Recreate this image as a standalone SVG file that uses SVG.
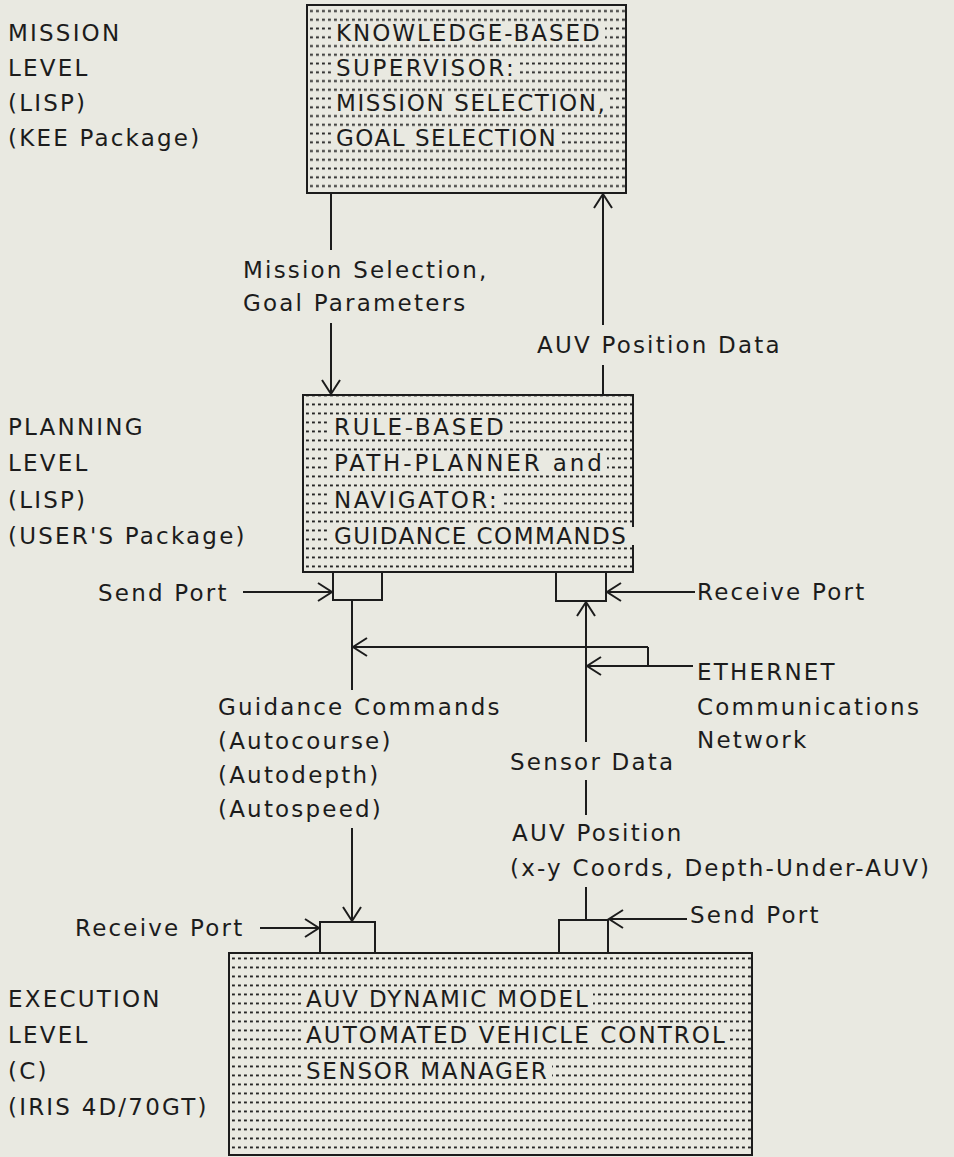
<svg xmlns="http://www.w3.org/2000/svg" width="954" height="1157" viewBox="0 0 954 1157">
  <defs>
    <style>
      text { font-family: "DejaVu Sans", "Liberation Sans", sans-serif; font-size: 23px; fill: #1c1c1c; letter-spacing: 2.2px; }
      .box { stroke: #1c1c1c; stroke-width: 2; }
      .ln { fill: none; stroke: #1c1c1c; stroke-width: 2; }
      .knock { fill: #e9e9e1; }
      .arr { marker-end: url(#head); }
    </style>
    <!-- stipple fills: short dashes in rows, one phase per box -->
    <pattern id="dotsTop" x="309" y="24.2" width="6" height="8.75" patternUnits="userSpaceOnUse">
      <rect x="1" y="3.4" width="2.9" height="1.9" fill="#262626"/>
    </pattern>
    <pattern id="dotsMid" x="305" y="418" width="6" height="9" patternUnits="userSpaceOnUse">
      <rect x="1" y="3.5" width="2.9" height="1.9" fill="#262626"/>
    </pattern>
    <pattern id="dotsLow" x="231" y="990" width="6" height="9" patternUnits="userSpaceOnUse">
      <rect x="1" y="3.5" width="2.9" height="1.9" fill="#262626"/>
    </pattern>
    <marker id="head" viewBox="-16 -11 18 22" markerWidth="18" markerHeight="22" refX="0" refY="0" orient="auto" markerUnits="userSpaceOnUse">
      <path d="M-14,-9 L0,0 L-14,9" fill="none" stroke="#1c1c1c" stroke-width="2"/>
    </marker>
  </defs>

  <rect width="954" height="1157" fill="#e9e9e1"/>

  <!-- level captions -->
  <g id="mission-level">
    <text x="8" y="41.4">MISSION</text>
    <text x="8" y="76.4">LEVEL</text>
    <text x="8" y="111.4">(LISP)</text>
    <text x="8" y="146.4">(KEE Package)</text>
  </g>
  <g id="planning-level">
    <text x="8" y="435.4">PLANNING</text>
    <text x="8" y="471.4">LEVEL</text>
    <text x="8" y="508.4">(LISP)</text>
    <text x="8" y="544.4">(USER'S Package)</text>
  </g>
  <g id="execution-level">
    <text x="8" y="1007.4">EXECUTION</text>
    <text x="8" y="1043.4">LEVEL</text>
    <text x="8" y="1079.4">(C)</text>
    <text x="8" y="1115.4">(IRIS 4D/70GT)</text>
  </g>

  <!-- knowledge-based supervisor -->
  <g id="supervisor">
    <rect class="box" x="307" y="5" width="319" height="188" fill="url(#dotsTop)"/>
    <rect class="knock" x="332" y="24" width="273" height="18"/>
    <rect class="knock" x="332" y="59" width="187" height="18"/>
    <rect class="knock" x="332" y="94" width="278" height="18"/>
    <rect class="knock" x="332" y="129" width="229" height="18"/>
    <text x="336" y="41.4" textLength="266" lengthAdjust="spacing">KNOWLEDGE-BASED</text>
    <text x="336" y="76.4" textLength="180" lengthAdjust="spacing">SUPERVISOR:</text>
    <text x="336" y="111.4" textLength="271" lengthAdjust="spacing">MISSION SELECTION,</text>
    <text x="336" y="146.4" textLength="222" lengthAdjust="spacing">GOAL SELECTION</text>
  </g>

  <!-- rule-based path planner -->
  <g id="planner">
    <rect class="box" x="303" y="395" width="330" height="177" fill="url(#dotsMid)"/>
    <rect class="knock" x="330" y="418" width="179" height="18"/>
    <rect class="knock" x="330" y="454" width="277" height="18"/>
    <rect class="knock" x="330" y="491" width="172" height="18"/>
    <rect class="knock" x="330" y="527" width="305" height="18"/>
    <text x="334" y="435.4" textLength="172" lengthAdjust="spacing">RULE-BASED</text>
    <text x="334" y="471.4" textLength="270" lengthAdjust="spacing">PATH-PLANNER and</text>
    <text x="334" y="508.4" textLength="165" lengthAdjust="spacing">NAVIGATOR:</text>
    <text x="334" y="544.4" textLength="294" lengthAdjust="spacing">GUIDANCE COMMANDS</text>
  </g>

  <!-- vehicle simulation and control -->
  <g id="vehicle">
    <rect class="box" x="229" y="953" width="523" height="202" fill="url(#dotsLow)"/>
    <rect class="knock" x="302" y="990" width="291" height="18"/>
    <rect class="knock" x="302" y="1026" width="428" height="18"/>
    <rect class="knock" x="302" y="1062" width="250" height="18"/>
    <text x="306" y="1007.4" textLength="284" lengthAdjust="spacing">AUV DYNAMIC MODEL</text>
    <text x="306" y="1043.4" textLength="421" lengthAdjust="spacing">AUTOMATED VEHICLE CONTROL</text>
    <text x="306" y="1079.4" textLength="243" lengthAdjust="spacing">SENSOR MANAGER</text>
  </g>

  <!-- communication ports -->
  <g id="planner-send-port">
    <path class="ln" d="M333,573 V600 H382 V573"/>
  </g>
  <g id="planner-receive-port">
    <path class="ln" d="M556,573 V601 H606 V573"/>
  </g>
  <g id="vehicle-receive-port">
    <path class="ln" d="M320,953 V922 H375 V953"/>
  </g>
  <g id="vehicle-send-port">
    <path class="ln" d="M559,953 V920 H608 V953"/>
  </g>

  <!-- connectors -->
  <g id="connectors">
    <path class="ln" d="M331,193 V250"/>
    <path class="ln arr" d="M331,323 V394"/>
    <path class="ln arr" d="M603,325 V194"/>
    <path class="ln" d="M603,365 V395"/>

    <path class="ln arr" d="M243,592 H332"/>
    <path class="ln arr" d="M695,592 H607"/>

    <path class="ln" d="M352,600 V690"/>
    <path class="ln arr" d="M648,647 H353"/>
    <path class="ln" d="M648,647 V666"/>
    <path class="ln arr" d="M693,666 H587"/>

    <path class="ln arr" d="M586,742 V602"/>
    <path class="ln" d="M586,780 V815"/>
    <path class="ln" d="M586,887 V920"/>

    <path class="ln arr" d="M352,828 V921"/>
    <path class="ln arr" d="M260,928 H319"/>
    <path class="ln arr" d="M687,919 H609"/>
  </g>

  <!-- connector labels -->
  <g id="labels">
    <text x="243" y="278.4">Mission Selection,</text>
    <text x="243" y="311.4">Goal Parameters</text>
    <text x="537" y="353.4">AUV Position Data</text>
    <text x="98" y="601.4">Send Port</text>
    <text x="697" y="600.4">Receive Port</text>
    <text x="697" y="680.4">ETHERNET</text>
    <text x="697" y="715.4">Communications</text>
    <text x="697" y="748.4">Network</text>
    <text x="218" y="715.4">Guidance Commands</text>
    <text x="218" y="749.4">(Autocourse)</text>
    <text x="218" y="783.4">(Autodepth)</text>
    <text x="218" y="817.4">(Autospeed)</text>
    <text x="510" y="770.4">Sensor Data</text>
    <text x="512" y="841.4">AUV Position</text>
    <text x="510" y="876.4">(x-y Coords, Depth-Under-AUV)</text>
    <text x="75" y="936.4">Receive Port</text>
    <text x="690" y="923.4">Send Port</text>
  </g>
</svg>
